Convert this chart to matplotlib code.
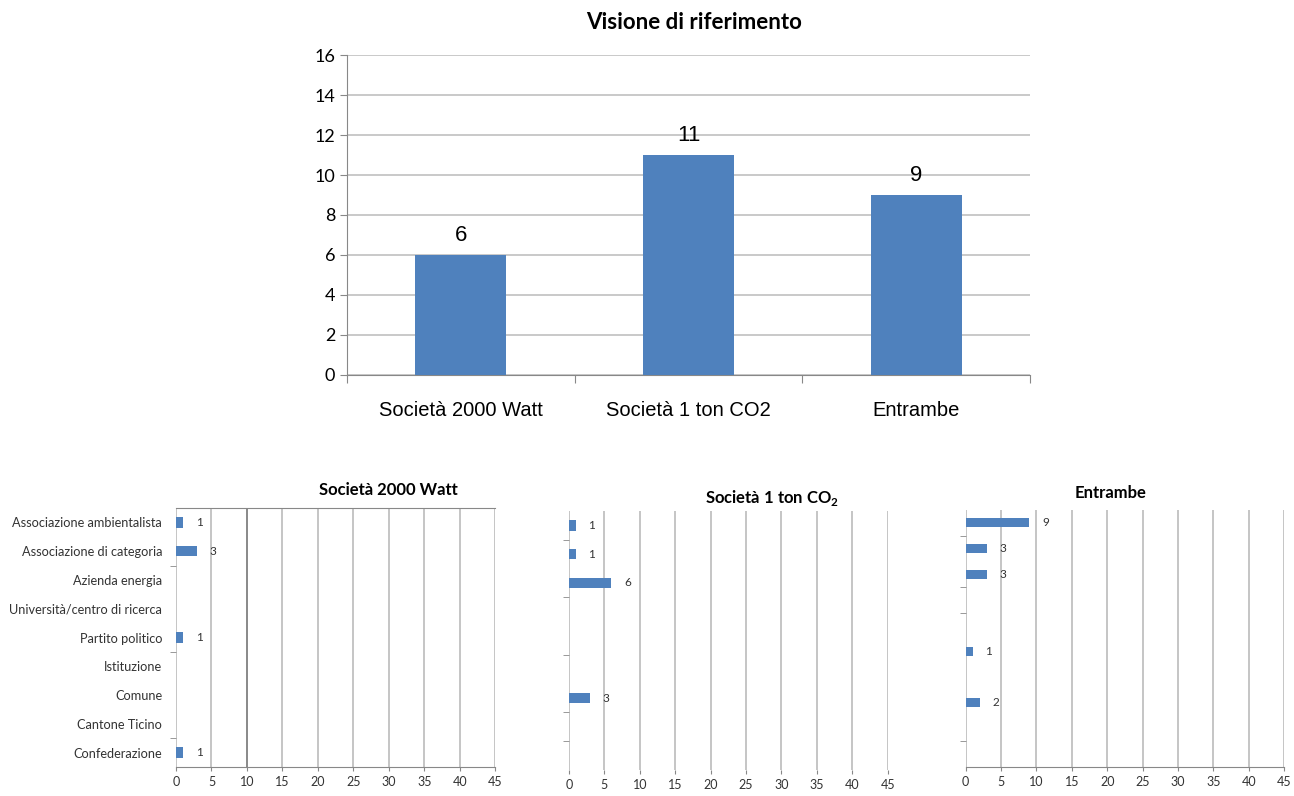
import numpy as np
from matplotlib import pyplot as plt

# top chart
visioni = ['Società 2000 Watt', 'Società 1 ton CO2', 'Entrambe']
conteggi = [6, 11, 9]

# bottom charts (top to bottom)
categorie = ['Associazione ambientalista', 'Associazione di categoria', 'Azienda energia',
             'Università/centro di ricerca', 'Partito politico', 'Istituzione',
             'Comune', 'Cantone Ticino', 'Confederazione']
val_2000w = [1, 3, 0, 0, 1, 0, 0, 0, 1]
val_1ton = [1, 1, 6, 0, 0, 0, 3, 0, 0]
val_entrambe = [9, 3, 3, 0, 0, 1, 0, 2, 0, 0]

blu = '#4F81BD'
griglia = '#C0C0C0'
plt.rcParams['font.family'] = ['Lato', 'DejaVu Sans']

fig = plt.figure(figsize=(12.94, 7.96), dpi=100)

# ---- top chart
ax = fig.add_axes([0.2682, 0.5289, 0.5278, 0.402])
x = np.arange(len(visioni))
ax.bar(x, conteggi, width=0.40, color=blu, zorder=3)
for xi, v in zip(x, conteggi):
    ax.text(xi, v + 0.45, str(v), ha='center', va='bottom', fontsize=16,
            fontfamily='Liberation Sans')
ax.set_xlim(-0.5, 2.5)
ax.set_ylim(0, 16)
ax.set_yticks(range(0, 17, 2))
ax.yaxis.grid(True, color=griglia, linewidth=1.2, zorder=0)
ax.set_xticks([-0.5, 0.5, 1.5, 2.5])
ax.set_xticklabels([])
ax.set_xticks(x, minor=True)
ax.set_xticklabels(visioni, minor=True, fontsize=14.5, fontfamily='Liberation Sans')
ax.tick_params(axis='x', which='minor', length=0, pad=19)
ax.tick_params(axis='x', which='major', length=6, color='#888888', direction='out')
ax.tick_params(axis='y', length=5, color='#888888', labelsize=13)
for s in ['top', 'right']:
    ax.spines[s].set_visible(False)
ax.spines['left'].set_color('#888888')
ax.spines['bottom'].set_color('#888888')
fig.text(0.536, 0.972, 'Visione di riferimento', ha='center', va='center',
         fontsize=16, fontweight='bold')

# ---- bottom charts
pannelli = [
    ([0.136, 0.0364, 0.2469, 0.3254], val_2000w, 'Società 2000 Watt', (0.300, 0.384), True, [1.5, 4.5, 7.5]),
    ([0.4397, 0.0327, 0.2463, 0.3254], val_1ton, r'Società 1 ton CO$_{\mathregular{2}}$', (0.597, 0.375), False,
     [0.5, 2.5, 4.5, 6.5, 7.5]),
    ([0.7463, 0.0368, 0.246, 0.3225], val_entrambe, 'Entrambe', (0.858, 0.381), False, [0.5, 2.5, 3.5, 8.5]),
]

for pos, valori, titolo, tpos, con_etichette, tacche in pannelli:
    a = fig.add_axes(pos)
    n = len(valori)
    y = np.arange(n)
    a.barh(y, valori, height=0.36, color=blu, zorder=3)
    for yi, v in zip(y, valori):
        if v > 0:
            a.annotate(str(v), (v, yi), xytext=(9, 0), textcoords='offset points',
                       ha='left', va='center', fontsize=8.5, color='#333333')
    a.set_xlim(0, 45)
    a.set_ylim(n - 0.5, -0.5)
    a.set_xticks(range(0, 46, 5))
    a.xaxis.grid(True, color=griglia, linewidth=1.3, zorder=0)
    a.tick_params(axis='x', length=3, color='#888888', labelsize=9, labelcolor='#333333')
    if con_etichette:
        a.set_yticks(y)
        a.set_yticklabels(categorie[:n], fontsize=9.2, color='#333333')
        a.get_xgridlines()[2].set_color('#808080')
    else:
        a.set_yticks([])
    a.set_yticks(tacche, minor=True)
    a.tick_params(axis='y', which='major', length=0, pad=10)
    a.tick_params(axis='y', which='minor', length=4, color='#888888')
    for s in ['top', 'right', 'left', 'bottom']:
        a.spines[s].set_visible(False)
    a.spines['bottom'].set_visible(titolo != r'Società 1 ton CO$_{\mathregular{2}}$')
    a.spines['bottom'].set_color('#888888')
    if con_etichette:
        a.spines['top'].set_visible(True)
        a.spines['top'].set_color('#888888')
    fig.text(tpos[0], tpos[1], titolo, ha='center', va='center', fontsize=12, fontweight='bold')

fig.savefig('out.png', dpi=100, facecolor='white')
